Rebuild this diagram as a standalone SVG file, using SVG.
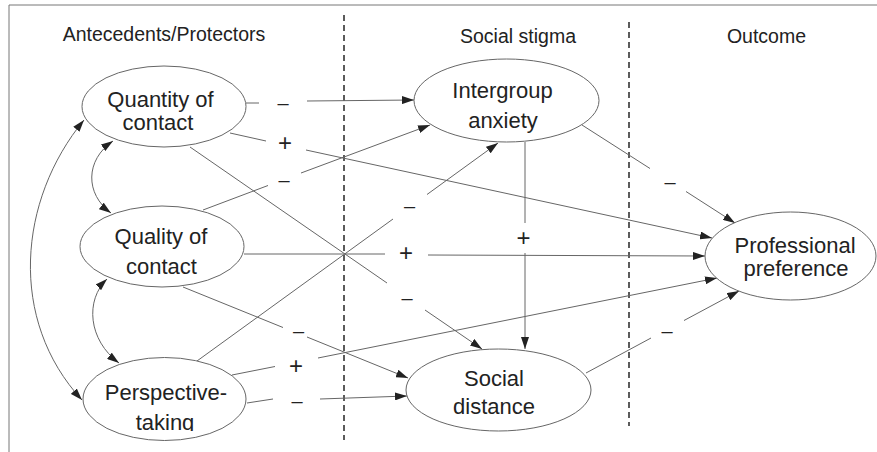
<svg xmlns="http://www.w3.org/2000/svg" width="877" height="452" viewBox="0 0 877 452">
<style>
.hdr{font-family:"Liberation Sans",Arial,sans-serif;font-size:19.5px;fill:#222;text-anchor:middle}
.lbl{font-family:"Liberation Sans",Arial,sans-serif;font-size:22px;fill:#222;text-anchor:middle}
.node{fill:#fff;stroke:#666;stroke-width:1}
.con{fill:none;stroke:#666;stroke-width:1}
.dash{font-family:"Liberation Sans",Arial,sans-serif;font-size:20px;fill:#222;text-anchor:middle}
.plus{font-family:"Liberation Sans",Arial,sans-serif;font-size:24px;fill:#222;text-anchor:middle}
.div{stroke:#333;stroke-width:1.6;stroke-dasharray:6 4;fill:none}
</style>
<defs>
<marker id="ah" markerWidth="12" markerHeight="8" refX="12" refY="4" orient="auto-start-reverse" markerUnits="userSpaceOnUse">
<path d="M0,0 L12,4 L0,8 Z" fill="#222"/>
</marker>
<clipPath id="clipTaking"><rect x="0" y="0" width="877" height="431"/></clipPath>
</defs>
<rect width="877" height="452" fill="#fff"/>
<g id="frame" fill="none" stroke="#777" stroke-width="1">
<path d="M9,5 H877 M9,5 V452"/>
</g>
<g id="dividers">
<line class="div" x1="344" y1="15" x2="344" y2="440"/>
<line class="div" x1="629" y1="22" x2="629" y2="426"/>
</g>
<g id="headers">
<text class="hdr" x="164" y="41">Antecedents/Protectors</text>
<text class="hdr" x="518" y="42.5">Social stigma</text>
<text class="hdr" x="766.5" y="42.5">Outcome</text>
</g>
<g id="connectors">
<path class="con" marker-end="url(#ah)" d="M246,103 L259,103 M307,101 L414,100"/>
<path class="con" marker-end="url(#ah)" d="M230,133 L266,141 M306,150 L712,238"/>
<path class="con" marker-end="url(#ah)" d="M190,147 L387,283 M425,310 L482,349"/>
<path class="con" marker-end="url(#ah)" d="M203,210 L268,185.5 M301,173 L430,125"/>
<path class="con" marker-end="url(#ah)" d="M244,254 L385,254 M428,255 L705,256"/>
<path class="con" marker-end="url(#ah)" d="M183,287 L283,327.5 M307,337 L408,378"/>
<path class="con" marker-end="url(#ah)" d="M197,361 L393,219 M427,194.5 L498,143"/>
<path class="con" marker-end="url(#ah)" d="M232,375 L275,366.5 M318,358 L717,278"/>
<path class="con" marker-end="url(#ah)" d="M247,403 L273,399 M320,399 L407,396"/>
<path class="con" marker-end="url(#ah)" d="M582,125 L650,168.5 M686,191.5 L735,223"/>
<path class="con" marker-end="url(#ah)" d="M525,142 L525,223 M525,253 L525,349"/>
<path class="con" marker-end="url(#ah)" d="M586,373 L651,338 M684,320.5 L739,291"/>
<path class="con" marker-start="url(#ah)" marker-end="url(#ah)" d="M113,141 C85,160 85,194 111,213"/>
<path class="con" marker-start="url(#ah)" marker-end="url(#ah)" d="M107,279 C85,300 88,340 119,363"/>
<path class="con" marker-start="url(#ah)" marker-end="url(#ah)" d="M84,120 C18,200 8,320 82,400"/>
</g>
<g id="signs">
<text class="dash" x="283" y="109.5">–</text>
<text class="plus" x="285" y="151">+</text>
<text class="dash" x="407" y="304.5">–</text>
<text class="dash" x="284" y="186.5">–</text>
<text class="plus" x="406" y="261">+</text>
<text class="dash" x="298.5" y="337.5">–</text>
<text class="dash" x="409.5" y="212.5">–</text>
<text class="plus" x="296" y="374">+</text>
<text class="dash" x="297" y="407.5">–</text>
<text class="dash" x="670" y="188.5">–</text>
<text class="plus" x="523.5" y="246">+</text>
<text class="dash" x="667" y="337.5">–</text>
</g>
<g id="quantity">
<ellipse class="node" cx="164" cy="106.5" rx="82" ry="40.5"/>
<text class="lbl" x="160.5" y="107">Quantity of</text>
<text class="lbl" x="158" y="130">contact</text>
</g>
<g id="quality">
<ellipse class="node" cx="162" cy="246.5" rx="82" ry="40.5"/>
<text class="lbl" x="161" y="244">Quality of</text>
<text class="lbl" x="161.5" y="274">contact</text>
</g>
<g id="perspective">
<ellipse class="node" cx="164.5" cy="399" rx="81.5" ry="41.5"/>
<text class="lbl" x="166" y="400">Perspective-</text>
<text class="lbl" x="165" y="430" clip-path="url(#clipTaking)">taking</text>
</g>
<g id="intergroup">
<ellipse class="node" cx="506.5" cy="100.5" rx="92.5" ry="41.5"/>
<text class="lbl" x="502.5" y="98">Intergroup</text>
<text class="lbl" x="503" y="128">anxiety</text>
</g>
<g id="social">
<ellipse class="node" cx="498.5" cy="390" rx="92.5" ry="41"/>
<text class="lbl" x="494" y="386">Social</text>
<text class="lbl" x="494" y="414">distance</text>
</g>
<g id="professional">
<ellipse class="node" cx="790.5" cy="256" rx="85.5" ry="44"/>
<text class="lbl" x="795" y="253">Professional</text>
<text class="lbl" x="796" y="276">preference</text>
</g>
</svg>
